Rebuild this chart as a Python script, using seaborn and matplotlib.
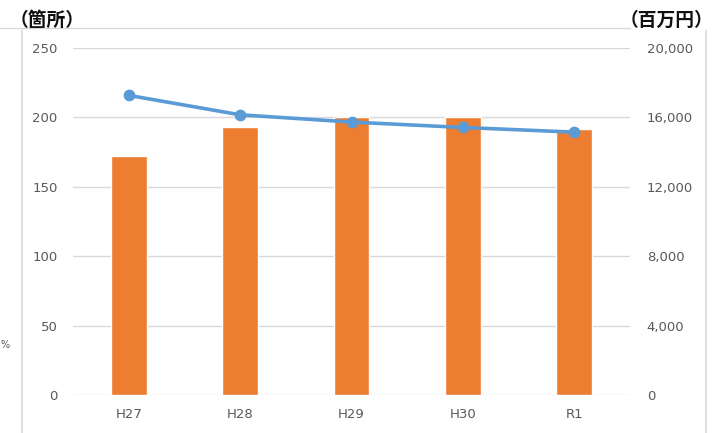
import matplotlib
matplotlib.use("Agg")
import matplotlib.pyplot as plt
from matplotlib.lines import Line2D
from matplotlib.ticker import FuncFormatter
import seaborn as sns
import pandas as pd

# --- dados ---
anos = ["H27", "H28", "H29", "H30", "R1"]
locais = [172, 193, 200, 200.5, 192]              # (箇所)
valores = [17270, 16150, 15730, 15420, 15150]      # (百万円)

df = pd.DataFrame({"ano": anos, "locais": locais, "valores": valores})

sns.set_style("white")
plt.rcParams["font.family"] = ["DejaVu Sans", "Noto Sans CJK JP"]

LARANJA = "#ED7D31"
AZUL = "#5B9BD5"
CINZA = "#595959"
GRADE = "#D9D9D9"

fig = plt.figure(figsize=(7.13, 4.33), dpi=100)
ax = fig.add_axes([73 / 713, 38 / 433, 557 / 713, 347 / 433])

sns.barplot(data=df, x="ano", y="locais", color=LARANJA, saturation=1, width=0.32, ax=ax, zorder=2)
ax.set_ylim(0, 250)
ax.set_yticks(range(0, 251, 50))
ax.set_xlim(-0.5, 4.5)
ax.yaxis.grid(True, color=GRADE, linewidth=1)
ax.set_axisbelow(True)
ax.set_xlabel("")
ax.set_ylabel("")
ax.tick_params(axis="y", length=0, pad=11, labelsize=9.5, labelcolor=CINZA)
ax.tick_params(axis="x", length=0, pad=9, labelsize=9.5, labelcolor=CINZA)

ax2 = ax.twinx()
sns.pointplot(data=df, x="ano", y="valores", color=AZUL, markers="o", linestyles="-",
              markersize=6.5, linewidth=2.6, ax=ax2)
ax2.set_ylim(0, 20000)
ax2.set_yticks(range(0, 20001, 4000))
ax2.yaxis.set_major_formatter(FuncFormatter(lambda v, p: f"{int(v):,}"))
ax2.set_ylabel("")
ax2.set_xlim(-0.5, 4.5)
ax2.tick_params(axis="y", length=0, pad=12, labelsize=9.5, labelcolor=CINZA)

for a in (ax, ax2):
    for s in a.spines.values():
        s.set_visible(False)

# titulos das escalas
fig.text(10 / 713, 1 - 20 / 433, "（箇所）", fontsize=13.5, family=["Noto Sans CJK JP"],
         fontweight="bold", va="center", ha="left", color="#111111")
fig.text(713 / 713, 1 - 20 / 433, "（百万円）", fontsize=13.5, family=["Noto Sans CJK JP"],
         fontweight="bold", va="center", ha="right", color="#111111")

# linhas da moldura do documento
fig.add_artist(Line2D([0, 630 / 713], [1 - 28 / 433] * 2, color=GRADE, lw=1, transform=fig.transFigure))
fig.add_artist(Line2D([22 / 713] * 2, [0, 1 - 30 / 433], color=GRADE, lw=1.2, transform=fig.transFigure))
fig.add_artist(Line2D([706 / 713] * 2, [0, 1 - 30 / 433], color=GRADE, lw=1.2, transform=fig.transFigure))
fig.text(0.5 / 713, 1 - 345 / 433, "%", fontsize=7, color=CINZA, va="center", ha="left")

fig.savefig("out.png", dpi=100)
